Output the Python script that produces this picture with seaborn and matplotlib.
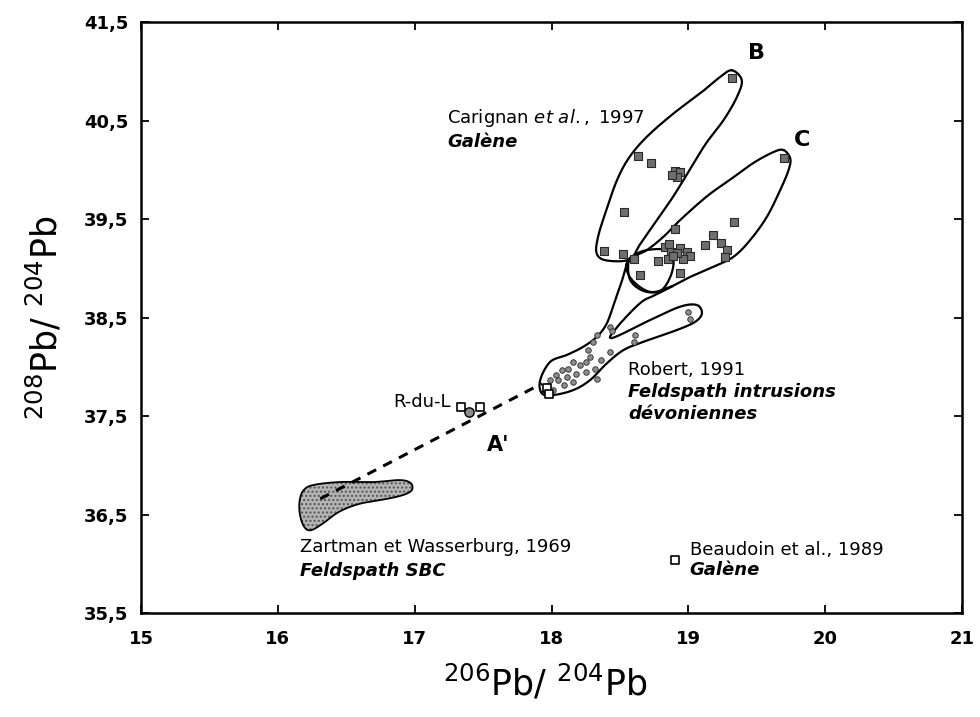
import numpy as np
import pandas as pd
import matplotlib
matplotlib.use("Agg")
import matplotlib.pyplot as plt
import seaborn as sns

# Carignan et al., 1997 - galena (hatched squares)
carignan_x = [19.32, 18.63, 18.73, 18.90, 18.94, 18.92, 18.88, 18.53, 18.38, 18.52,
              18.60, 18.65, 18.78, 18.90, 19.33, 18.83, 18.87, 18.94, 18.99, 19.01,
              18.96, 18.85, 19.12, 19.18, 19.24, 19.28, 19.27, 18.94, 19.70, 18.86,
              18.92, 18.89]
carignan_y = [40.93, 40.14, 40.07, 39.99, 39.98, 39.93, 39.95, 39.57, 39.18, 39.14,
              39.09, 38.93, 39.07, 39.40, 39.47, 39.22, 39.17, 39.21, 39.17, 39.12,
              39.09, 39.09, 39.24, 39.34, 39.26, 39.19, 39.11, 38.95, 40.12, 39.25,
              39.15, 39.12]

# Robert, 1991 - feldspar from Devonian intrusions (small dots)
robert_x = [18.43, 18.44, 18.61, 18.60, 18.43, 18.33, 18.30, 19.00, 19.01,
            18.28, 18.25, 18.21, 18.16, 18.12, 18.08, 18.03, 17.99, 17.97, 17.95,
            18.05, 18.11, 18.18, 18.25, 18.32, 18.33, 18.16, 18.09, 18.01, 18.36, 18.27]
robert_y = [38.40, 38.36, 38.32, 38.25, 38.15, 38.32, 38.25, 38.56, 38.49,
            38.10, 38.05, 38.02, 38.05, 37.98, 37.97, 37.92, 37.87, 37.80, 37.75,
            37.87, 37.90, 37.93, 37.95, 37.98, 37.88, 37.85, 37.81, 37.76, 38.07, 38.17]

# open squares (R-du-L and base of the Robert field)
open_x = [17.97, 17.98, 17.34, 17.48]
open_y = [37.78, 37.72, 37.59, 37.59]

# A' point
aprime_x = [17.40]
aprime_y = [37.54]

# Beaudoin et al., 1989 - galena
beaudoin_x = [18.90]
beaudoin_y = [36.04]

# hand drawn fields
env_b_x = [19.318, 19.39, 19.355, 19.26, 19.13, 19.01, 18.89, 18.77, 18.65, 18.57,
           18.40, 18.33, 18.34, 18.40, 18.48, 18.57, 18.70, 18.89, 19.09, 19.23]
env_b_y = [41.01, 40.91, 40.74, 40.51, 40.27, 40.00, 39.73, 39.49, 39.25, 39.09,
           39.08, 39.15, 39.32, 39.59, 39.90, 40.13, 40.34, 40.57, 40.78, 40.94]

env_c_x = [19.695, 19.744, 19.732, 19.671, 19.574, 19.452, 19.330, 19.184, 19.016, 18.870,
           18.721, 18.589, 18.545, 18.604, 18.697, 18.818, 18.94, 19.135, 19.305, 19.476, 19.622]
env_c_y = [40.20, 40.116, 39.997, 39.794, 39.523, 39.287, 39.117, 39.016, 38.914, 38.813,
           38.76, 38.88, 39.03, 39.12, 39.185, 39.32, 39.49, 39.73, 39.90, 40.07, 40.18]

env_small_x = [18.562, 18.575, 18.672, 18.794, 18.867, 18.891, 18.843, 18.697, 18.60]
env_small_y = [39.067, 38.88, 38.77, 38.77, 38.91, 39.08, 39.185, 39.185, 39.13]

env_robert_x = [18.888, 18.757, 18.648, 18.480, 18.443, 18.721, 18.94, 19.062, 19.099, 19.05,
                18.916, 18.672, 18.526, 18.404, 18.282, 18.16, 18.014, 17.929, 17.917, 17.99,
                18.112, 18.233, 18.331, 18.404, 18.465, 18.516, 18.553]
env_robert_y = [38.82, 38.728, 38.647, 38.404, 38.292, 38.475, 38.61, 38.627, 38.543, 38.457,
                38.373, 38.254, 38.17, 38.035, 37.865, 37.764, 37.713, 37.73, 37.865, 38.05,
                38.12, 38.204, 38.305, 38.441, 38.678, 38.88, 39.063]

# Zartman et Wasserburg, 1969 - SBC feldspar field
zartman_x = [16.19, 16.26, 16.45, 16.70, 16.89, 16.97, 16.98, 16.92, 16.80, 16.60,
             16.45, 16.33, 16.24, 16.19, 16.16, 16.16]
zartman_y = [36.75, 36.80, 36.83, 36.83, 36.85, 36.82, 36.75, 36.70, 36.66, 36.61,
             36.53, 36.41, 36.34, 36.38, 36.51, 36.65]

# mixing line
dash_x = [16.31, 17.93]
dash_y = [36.66, 37.83]

x_ticks = [15, 16, 17, 18, 19, 20, 21]
x_labels = ["15", "16", "17", "18", "19", "20", "21"]
y_ticks = [35.5, 36.5, 37.5, 38.5, 39.5, 40.5, 41.5]
y_labels = ["35,5", "36,5", "37,5", "38,5", "39,5", "40,5", "41,5"]


def smooth(xs, ys, closed=True, n=14):
    # catmull-rom through the digitised outline
    pts = np.column_stack([xs, ys])
    if closed:
        p = np.vstack([pts[-1], pts, pts[0], pts[1]])
    else:
        p = np.vstack([pts[0], pts, pts[-1]])
    t = np.linspace(0, 1, n, endpoint=False)[:, None]
    out = []
    for i in range(1, len(p) - 2):
        p0, p1, p2, p3 = p[i - 1], p[i], p[i + 1], p[i + 2]
        seg = 0.5 * (2 * p1 + (-p0 + p2) * t + (2 * p0 - 5 * p1 + 4 * p2 - p3) * t ** 2
                     + (-p0 + 3 * p1 - 3 * p2 + p3) * t ** 3)
        out.append(seg)
    out.append(p[-2][None, :])
    c = np.vstack(out)
    return c[:, 0], c[:, 1]


sns.set_style("ticks")
plt.rcParams["font.family"] = ["DejaVu Sans"]
plt.rcParams["mathtext.fontset"] = "dejavusans"
plt.rcParams["mathtext.default"] = "regular"
plt.rcParams["hatch.linewidth"] = 1.0
for key in ["text.color", "axes.labelcolor", "xtick.color", "ytick.color"]:
    plt.rcParams[key] = "black"

fig = plt.figure(figsize=(9.8, 7.17), dpi=100)
ax = fig.add_axes([0.1439, 0.145, 0.8378, 0.8243])

# fields
for ex, ey in [(env_b_x, env_b_y), (env_c_x, env_c_y), (env_small_x, env_small_y)]:
    sx, sy = smooth(ex, ey)
    ax.plot(sx, sy, color="black", lw=1.6, zorder=2)
sx, sy = smooth(env_robert_x, env_robert_y, closed=False)
ax.plot(sx, sy, color="black", lw=1.6, zorder=2)

zx, zy = smooth(zartman_x, zartman_y)
ax.fill(zx, zy, facecolor="#b4b4b4", edgecolor="#555555", hatch="....", lw=0, zorder=2)
ax.plot(zx, zy, color="black", lw=1.3, zorder=2)
ax.plot(dash_x, dash_y, color="black", lw=2.2, ls=(0, (3.2, 2.6)), zorder=3)

# points
df_car = pd.DataFrame({"x": carignan_x, "y": carignan_y})
df_rob = pd.DataFrame({"x": robert_x, "y": robert_y})
df_open = pd.DataFrame({"x": open_x + beaudoin_x, "y": open_y + beaudoin_y})
df_a = pd.DataFrame({"x": aprime_x, "y": aprime_y})

sns.scatterplot(data=df_car, x="x", y="y", marker="s", s=40, color="#6e6e6e",
                edgecolor="#2a2a2a", linewidth=0.8, ax=ax, zorder=4)
sns.scatterplot(data=df_rob, x="x", y="y", marker="o", s=16, color="#8c8c8c",
                edgecolor="#2a2a2a", linewidth=0.6, ax=ax, zorder=4)
sns.scatterplot(data=df_open, x="x", y="y", marker="s", s=30, color="white",
                edgecolor="black", linewidth=1.2, ax=ax, zorder=4)
sns.scatterplot(data=df_a, x="x", y="y", marker="o", s=45, color="#8c8c8c",
                edgecolor="black", linewidth=1.0, ax=ax, zorder=5)

# annotations
fs = 13
ax.text(17.237, 40.525, r"Carignan $\it{et\ al.,}$ 1997", fontsize=fs, va="center")
ax.text(17.237, 40.28, "Galène", fontsize=fs, fontweight="bold", style="italic", va="center")
ax.text(19.50, 41.19, "B", fontsize=16, fontweight="bold", ha="center", va="center")
ax.text(19.83, 40.30, "C", fontsize=16, fontweight="bold", ha="center", va="center")
ax.text(18.56, 37.967, "Robert, 1991", fontsize=fs, va="center")
ax.text(18.56, 37.745, "Feldspath intrusions", fontsize=fs, fontweight="bold",
        style="italic", va="center")
ax.text(18.56, 37.52, "dévoniennes", fontsize=fs, fontweight="bold", style="italic", va="center")
ax.text(17.26, 37.642, "R-du-L", fontsize=fs, ha="right", va="center")
ax.text(17.61, 37.21, "A'", fontsize=15, fontweight="bold", ha="center", va="center")
ax.text(16.16, 36.17, "Zartman et Wasserburg, 1969", fontsize=fs, va="center")
ax.text(16.16, 35.93, "Feldspath SBC", fontsize=fs, fontweight="bold", style="italic", va="center")
ax.text(19.01, 36.14, "Beaudoin et al., 1989", fontsize=fs, va="center")
ax.text(19.01, 35.94, "Galène", fontsize=fs, fontweight="bold", style="italic", va="center")

ax.set_xlim(15, 21)
ax.set_ylim(35.5, 41.5)
ax.set_xticks(x_ticks)
ax.set_xticklabels(x_labels)
ax.set_yticks(y_ticks)
ax.set_yticklabels(y_labels)
ax.tick_params(axis="both", direction="in", length=6, width=1.3, top=True, right=True,
               labelsize=13, colors="black")
ax.tick_params(axis="x", pad=12)
ax.tick_params(axis="y", pad=9)
for lbl in ax.get_xticklabels() + ax.get_yticklabels():
    lbl.set_fontweight("bold")
for sp in ax.spines.values():
    sp.set_linewidth(1.8)
    sp.set_color("black")

ax.set_xlabel(r"$^{206}$Pb/ $^{204}$Pb", fontsize=25, va="center")
ax.set_ylabel(r"$^{208}$Pb/ $^{204}$Pb", fontsize=25, va="center")
ax.xaxis.set_label_coords(0.492, -0.118)
ax.yaxis.set_label_coords(-0.117, 0.499)

fig.savefig("out.png", dpi=100)
